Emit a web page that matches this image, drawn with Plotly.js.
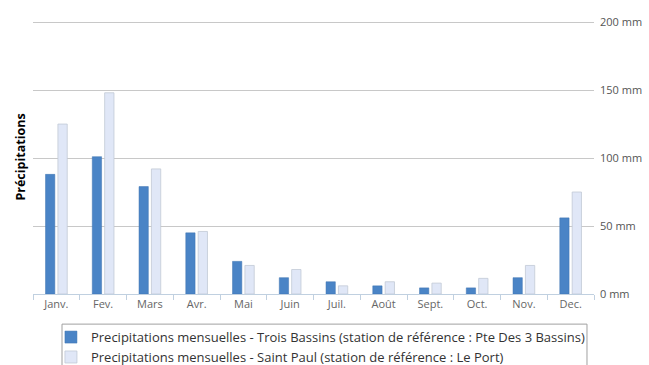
<!DOCTYPE html>
<html><head><meta charset="utf-8">
<script src="https://cdn.plot.ly/plotly-3.0.1.min.js"></script>
<style>html,body{margin:0;padding:0;background:#fff;}#chart{width:649px;height:365px;}</style>
</head><body><div id="chart"></div>
<script>
const months = ["Janv.","Fev.","Mars","Avr.","Mai","Juin","Juil.","Août","Sept.","Oct.","Nov.","Dec."];
const troisBassins = [88, 101, 79, 45, 24, 12, 9, 6, 4.5, 4.5, 12, 56];
const saintPaul = [125, 148, 92, 46, 21, 18, 6, 9, 8, 11.5, 21, 75];
const yTicks = [0, 50, 100, 150, 200];
const name1 = "Precipitations mensuelles - Trois Bassins (station de référence : Pte Des 3 Bassins)";
const name2 = "Precipitations mensuelles - Saint Paul (station de référence : Le Port)";
const font = "Open Sans, DejaVu Sans, sans-serif";

const data = [
  {type:"bar", x:months, y:troisBassins, name:name1,
   marker:{color:"#4a84c6", line:{color:"#3d72b0", width:0.5}}},
  {type:"bar", x:months, y:saintPaul, name:name2,
   marker:{color:"#e0e7f7", line:{color:"#c2c9d6", width:0.8}}}
];
const layout = {
  width:649, height:365,
  margin:{l:33, r:55, t:21, b:71, autoexpand:false},
  paper_bgcolor:"#fff", plot_bgcolor:"#fff",
  barmode:"group", bargap:0.47, bargroupgap:0.25,
  font:{family:font, size:11, color:"#333"},
  xaxis:{type:"category", tickfont:{size:11, color:"#666"},
    showline:true, linecolor:"#c0d0e0", linewidth:1,
    ticks:"outside", tickson:"boundaries", ticklen:5, tickcolor:"#c0d0e0",
    showgrid:false, fixedrange:true},
  yaxis:{side:"right", range:[0,200.8], tickvals:yTicks, ticktext:yTicks.map(v=>v+" mm"),
    tickfont:{size:11, color:"#555"}, gridcolor:"#c8c8c8", gridwidth:1,
    zeroline:false, showline:false, ticks:"", ticklabelstandoff:5},
  showlegend:true,
  legend:{orientation:"v", x:0.032, xanchor:"left", y:-0.103, yanchor:"top",
    borderwidth:0, bgcolor:"rgba(0,0,0,0)",
    font:{size:13, color:"#333"}, traceorder:"normal", tracegroupgap:0},
  shapes:[{type:"rect", xref:"paper", yref:"paper", x0:0.0517, x1:0.9875, y0:-0.1103, y1:-0.30,
    line:{color:"#a0a0a0", width:1}, fillcolor:"rgba(0,0,0,0)", layer:"below"}],
  annotations:[{text:"<b>Précipitations</b>", xref:"paper", yref:"paper",
    x:-0.023, y:0.5, xanchor:"center", yanchor:"middle", textangle:-90, showarrow:false,
    font:{size:12.5, color:"#000"}}]
};
Plotly.newPlot("chart", data, layout, {displayModeBar:false, staticPlot:true});
</script>
</body></html>
